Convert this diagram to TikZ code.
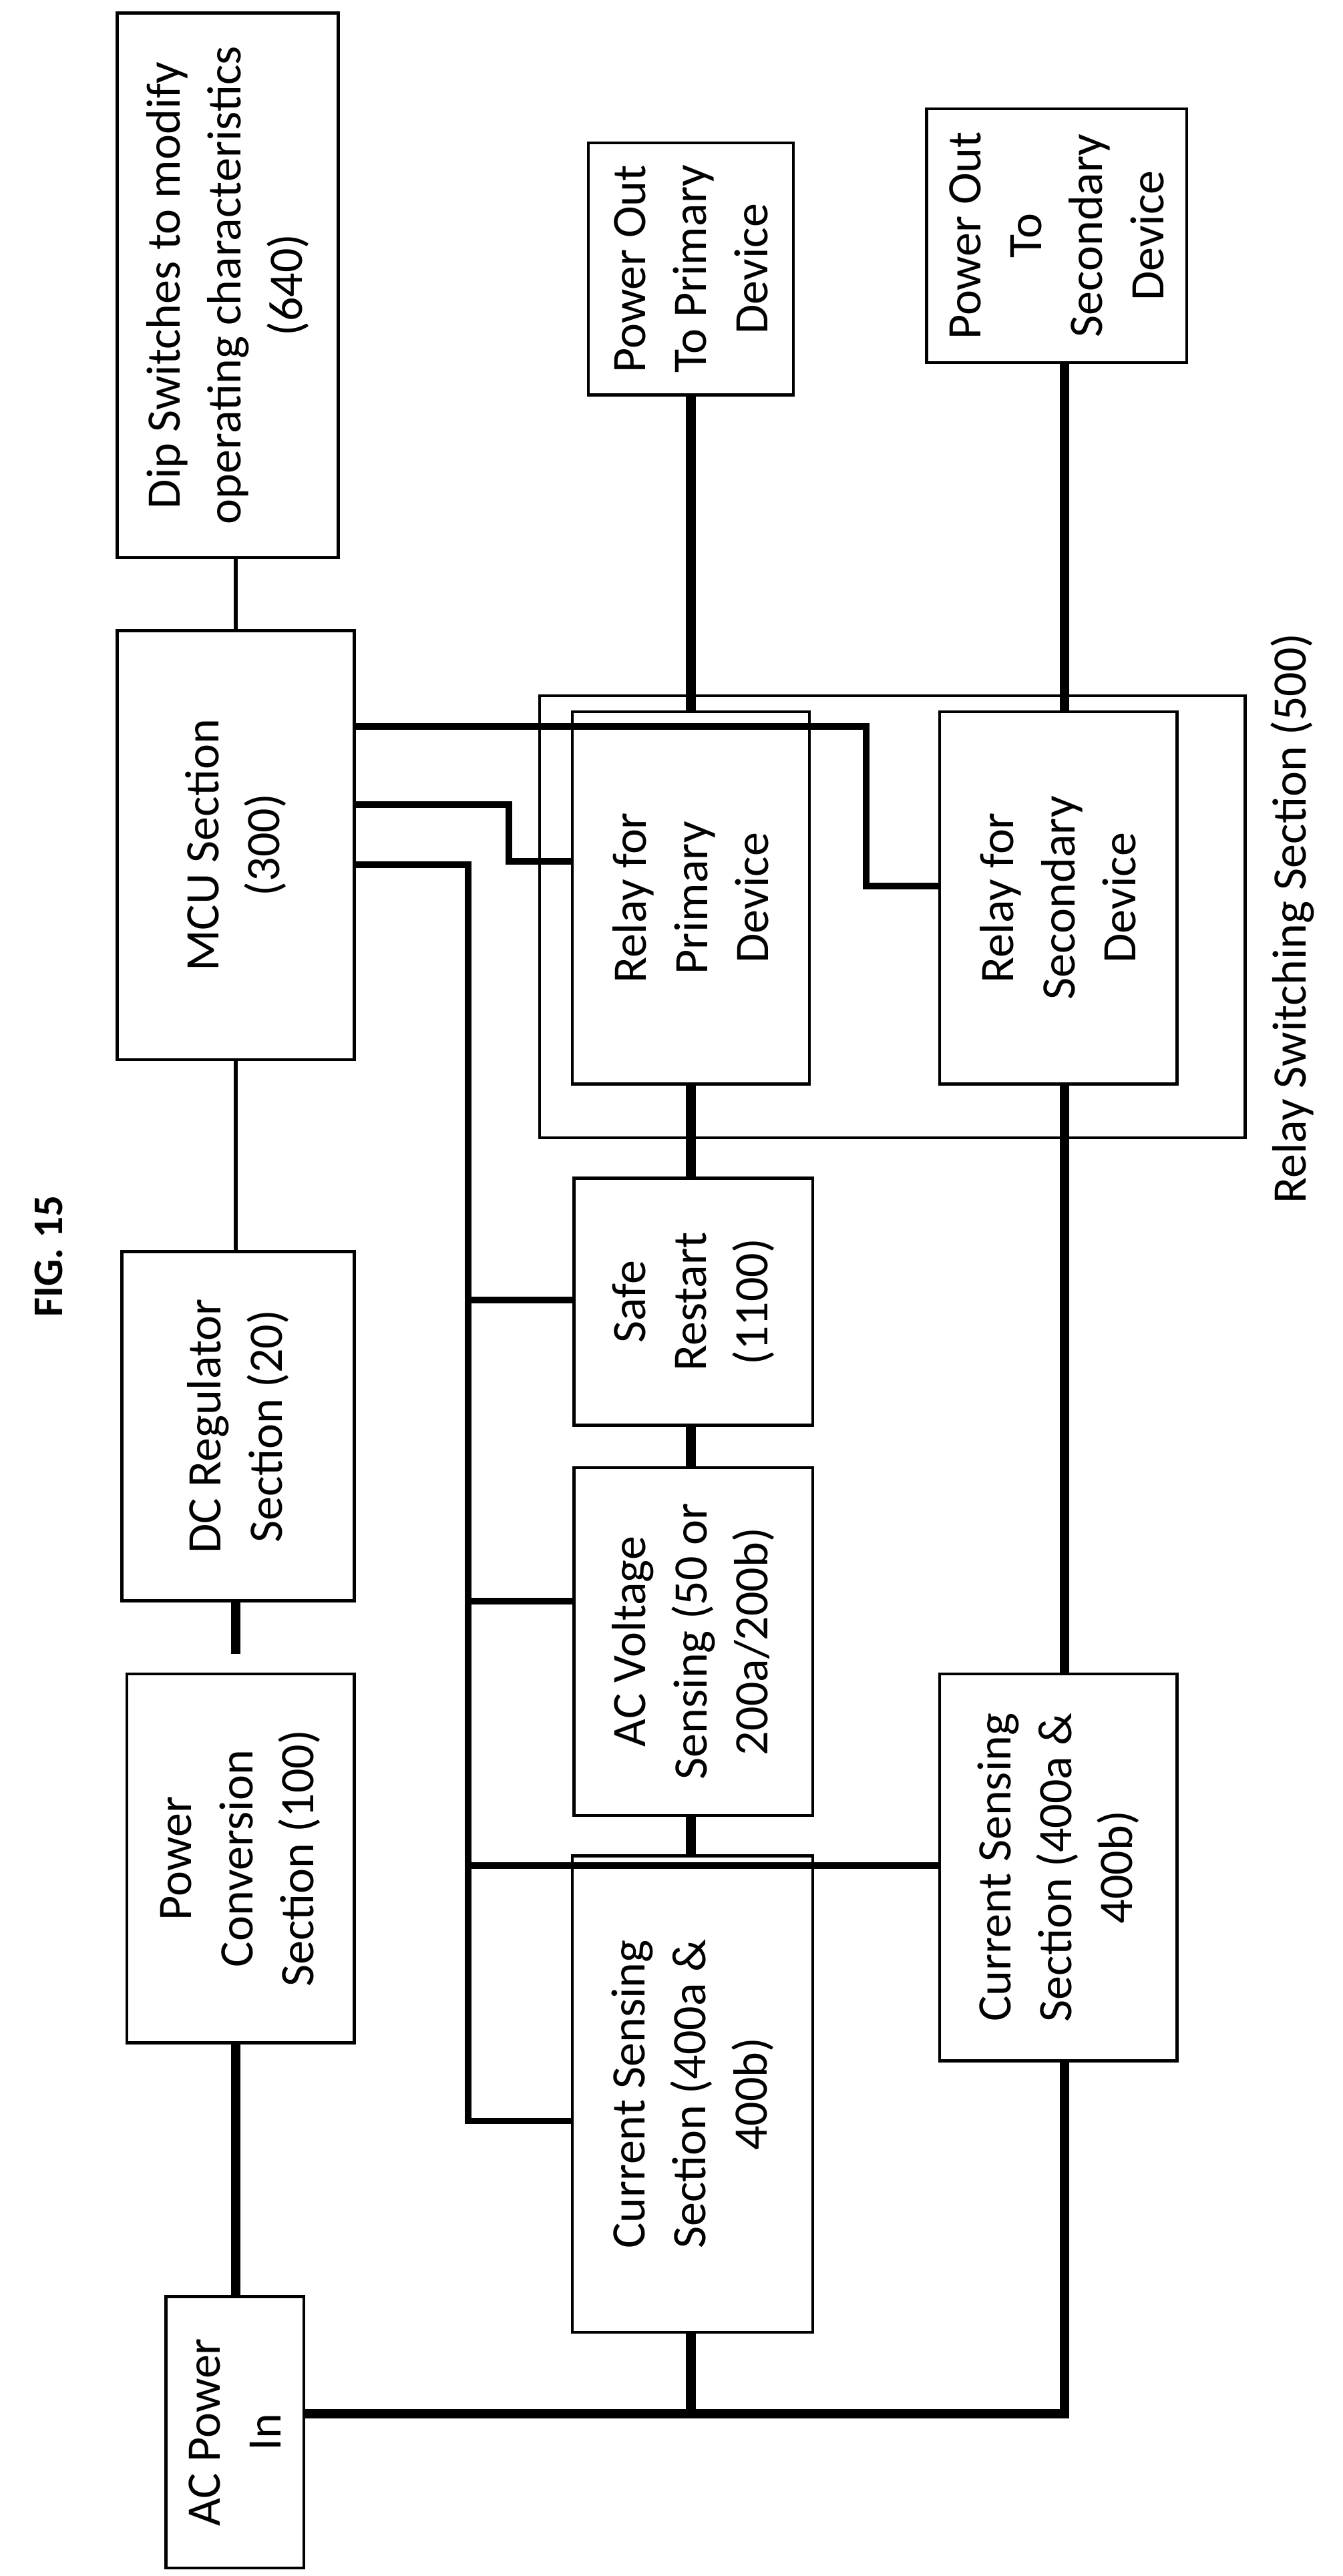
\documentclass[tikz,border=0pt]{standalone}
\usepackage{fontspec}
\setmainfont{Carlito}
\usetikzlibrary{fit}
\begin{document}
\begin{tikzpicture}[x=0.02434cm,y=-0.02434cm,
  box/.style={draw,line width=1.3pt,inner sep=0pt},
  lbl/.style={rotate=90,align=center,font=\fontsize{20.5}{26}\selectfont},
  thk/.style={line width=4pt},
  sig/.style={line width=2.8pt},
  thn/.style={line width=1.6pt}]
\useasboundingbox (0,0) rectangle (826,1585);
\newcommand\bx[6]{\node[box,fit={(#2,#3)(#4,#5)}] (#1) {};\node[lbl] at (#1.center) {#6};}
\bx{dip}{72}{8}{208}{343}{Dip Switches to modify\\operating characteristics\\(640)}
\bx{pop}{362}{88}{488}{243}{Power Out\\To Primary\\Device}
\bx{pos}{570}{67}{730}{223}{Power Out\\To\\Secondary\\Device}
\bx{mcu}{72}{388}{218}{652}{MCU Section\\(300)}
\node[box,fit={(332,428)(766,700)}] (rss) {};
\bx{rp}{352}{438}{498}{667}{Relay for\\Primary\\Device}
\bx{rs}{578}{438}{724}{667}{Relay for\\Secondary\\Device}
\bx{dc}{75}{770}{218}{985}{DC Regulator\\Section (20)}
\bx{sr}{353}{725}{500}{877}{Safe\\Restart\\(1100)}
\bx{acv}{353}{903}{500}{1117}{AC Voltage\\Sensing (50 or\\200a/200b)}
\bx{pc}{78}{1030}{218}{1257}{Power\\Conversion\\Section (100)}
\bx{csl}{352}{1142}{500}{1435}{Current Sensing\\Section (400a \&\\400b)}
\bx{csr}{578}{1030}{724}{1268}{Current Sensing\\Section (400a \&\\400b)}
\bx{acin}{102}{1413}{187}{1580}{AC Power\\In}
\node[rotate=90,font=\fontsize{18}{22}\selectfont\bfseries] (fig) at (30,773) {FIG. 15};
\node[rotate=90,font=\fontsize{20.5}{26}\selectfont] (rsl) at (795,565) {Relay Switching Section (500)};
\coordinate (c) at (145,0);
\coordinate (b1) at (425,1485);
\coordinate (b2) at (655,1485);
% power path
\draw[thn] (dip.south -| c) -- (mcu.north -| c);
\draw[thn] (mcu.south -| c) -- (dc.north -| c);
\draw[thk,dash pattern=on 22pt off 10pt] (dc.south -| c) -- (pc.north -| c);
\draw[thk] (pc.south -| c) -- (acin.north -| c);
\draw[thk] (acin.east |- b1) -- (b2) -- (csr.south -| b2);
\draw[thk] (b1) -- (csl.south -| b1);
\draw[thk] (csl.north -| b1) -- (acv.south -| b1);
\draw[thk] (acv.north -| b1) -- (sr.south -| b1);
\draw[thk] (sr.north -| b1) -- (rp.south -| b1);
\draw[thk] (rp.north -| b1) -- (pop.south -| b1);
\draw[thk] (csr.north -| b2) -- (rs.south -| b2);
\draw[thk] (rs.north -| b2) -- (pos.south -| b2);
% signal lines
\draw[sig] (mcu.east |- 0,447) -- (533,447) -- (533,545) -- (rs.west |- 0,545);
\draw[sig] (mcu.east |- 0,495) -- (313,495) -- (313,530) -- (rp.west |- 0,530);
\draw[sig] (mcu.east |- 0,532) -- (288,532) -- (288,1305) -- (csl.west |- 0,1305);
\draw[sig] (288,800) -- (sr.west |- 0,800);
\draw[sig] (288,985) -- (acv.west |- 0,985);
\draw[sig] (288,1148) -- (csr.west |- 0,1148);
\end{tikzpicture}
\end{document}
